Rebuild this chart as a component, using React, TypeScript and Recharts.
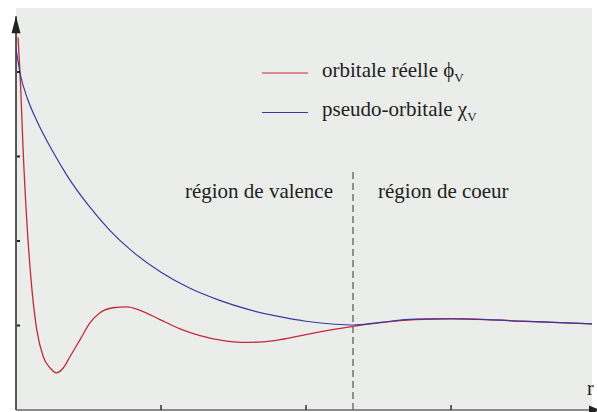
import React from 'react';
import {
  LineChart,
  Line,
  XAxis,
  YAxis,
  CartesianGrid,
  ReferenceLine,
  ReferenceDot,
  Legend,
} from 'recharts';

// r in units of the x-axis tick spacing, amplitude in units of the y-axis tick spacing
const reelleR = [0.014, 0.032, 0.05, 0.074, 0.108, 0.143, 0.188, 0.234, 0.28, 0.327, 0.372, 0.441, 0.51, 0.579, 0.669, 0.766, 0.855, 0.993, 1.131, 1.269, 1.43, 1.55, 1.7, 1.85, 2.05, 2.324, 2.5, 2.75, 3.0, 3.25, 3.5, 3.75, 3.972];
const reelleV = [4.41, 3.83, 3.04, 2.25, 1.46, 0.95, 0.63, 0.5, 0.44, 0.5, 0.63, 0.83, 1.03, 1.15, 1.21, 1.22, 1.18, 1.07, 0.96, 0.88, 0.82, 0.8, 0.805, 0.84, 0.91, 0.99, 1.03, 1.07, 1.08, 1.07, 1.05, 1.035, 1.018];

const pseudoR = [0, 0.03, 0.08, 0.15, 0.25, 0.35, 0.5, 0.65, 0.8, 1.0, 1.2, 1.4, 1.6, 1.8, 2.0, 2.2, 2.324, 2.5, 2.75, 3.0, 3.25, 3.5, 3.75, 3.972];
const pseudoV = [4.28, 3.97, 3.68, 3.4, 3.07, 2.78, 2.42, 2.12, 1.88, 1.63, 1.44, 1.3, 1.19, 1.11, 1.05, 1.015, 1.006, 1.035, 1.075, 1.08, 1.07, 1.05, 1.035, 1.018];

const xTicks = [1, 2, 3];
const yTicks = [1, 2, 3, 4];
const boundaryR = 2.324;
const boundaryTop = 2.82;
const regionLabelY = 2.51;
const xMax = 3.972;
const yMax = 4.757;
const yAxisTop = 4.66;

const regionLeft = 'région de valence';
const regionRight = 'région de coeur';
const nameReelle = 'orbitale réelle ϕ';
const namePseudo = 'pseudo-orbitale χ';
const subscript = 'V';
const axisLabel = 'r';

const reelleData = reelleR.map((r, i) => ({ r, v: reelleV[i] }));
const pseudoData = pseudoR.map((r, i) => ({ r, v: pseudoV[i] }));

const FONT = "'Liberation Serif', 'DejaVu Serif', 'Times New Roman', serif";
const textStyle = { fontFamily: FONT };

const XTick = (props: any) => {
  const { x, y } = props;
  return <line x1={x} x2={x} y1={y} y2={y - 5} stroke="#333" strokeWidth={1.5} />;
};

const YTick = (props: any) => {
  const { x, y } = props;
  return <line x1={x + 1} x2={x + 4} y1={y} y2={y} stroke="#222" strokeWidth={2} />;
};

const ArrowUp = (props: any) => {
  const { cx, cy } = props;
  return <polygon points={`${cx},${cy} ${cx - 4.5},${cy + 17} ${cx + 4.5},${cy + 17}`} fill="#222" />;
};

const ArrowRight = (props: any) => {
  const { cx, cy } = props;
  return (
    <g>
      <polygon points={`${cx + 8},${cy} ${cx - 3},${cy - 4.5} ${cx - 3},${cy + 4.5}`} fill="#222" />
      <text x={cx - 5} y={cy - 15} style={textStyle} fontSize={20} fill="#222">
        {axisLabel}
      </text>
    </g>
  );
};

const RegionLabels = (props: any) => {
  const { cx, cy } = props;
  return (
    <g style={textStyle} fontSize={21} fill="#222">
      <text x={cx - 20} y={cy} textAnchor="end" style={textStyle}>{regionLeft}</text>
      <text x={cx + 25} y={cy} textAnchor="start" style={textStyle}>{regionRight}</text>
    </g>
  );
};

const LegendContent = (props: any) => {
  const payload = props.payload || [];
  return (
    <svg width={260} height={80} style={{ display: 'block', overflow: 'visible' }}>
      {payload.map((item: any, i: number) => {
        const ly = 20 + i * 39.5;
        return (
          <g key={i}>
            <line x1={7} x2={53} y1={ly} y2={ly} stroke={item.color} strokeWidth={1} />
            <text x={67} y={ly + 3.5} style={textStyle} fontSize={21} fill="#222">
              {item.value}
              <tspan fontSize={13} dy={5}>{subscript}</tspan>
            </text>
          </g>
        );
      })}
    </svg>
  );
};

export default function App() {
  return (
    <div style={{ position: 'absolute', left: 0, top: 0, width: 597, height: 412, background: '#fff', fontFamily: FONT }}>
      <LineChart
        width={597}
        height={412}
        margin={{ top: 8, right: 5, bottom: 0, left: 0 }}
        style={{ fontFamily: FONT }}
      >
        <CartesianGrid horizontal={false} vertical={false} fill="#ebedea" stroke="none" />
        <XAxis
          dataKey="r"
          type="number"
          domain={[0, xMax]}
          ticks={xTicks}
          height={2}
          tickSize={0}
          tickMargin={0}
          tickLine={false}
          tick={XTick}
          axisLine={{ stroke: '#666', strokeWidth: 1.5 }}
          allowDataOverflow
        />
        <YAxis
          type="number"
          domain={[0, yMax]}
          ticks={yTicks}
          width={16}
          tickSize={0}
          tickMargin={0}
          tickLine={false}
          tick={YTick}
          axisLine={false}
          allowDataOverflow
        />
        <ReferenceLine
          segment={[{ x: 0, y: 0 }, { x: 0, y: yAxisTop }]}
          stroke="#222"
          strokeWidth={1.5}
          ifOverflow="visible"
        />
        <ReferenceLine
          segment={[{ x: boundaryR, y: 0 }, { x: boundaryR, y: boundaryTop }]}
          stroke="#333"
          strokeWidth={1}
          strokeDasharray="7 4"
        />
        <ReferenceDot x={boundaryR} y={regionLabelY} r={0} shape={RegionLabels} ifOverflow="visible" />
        <ReferenceDot x={0} y={yAxisTop} r={0} shape={ArrowUp} ifOverflow="visible" />
        <ReferenceDot x={xMax} y={0} r={0} shape={ArrowRight} ifOverflow="visible" />
        <Line
          data={reelleData}
          dataKey="v"
          name={nameReelle}
          type="monotone"
          stroke="#c22a3a"
          strokeWidth={1.3}
          dot={false}
          isAnimationActive={false}
        />
        <Line
          data={pseudoData}
          dataKey="v"
          name={namePseudo}
          type="monotone"
          stroke="#3a3a9e"
          strokeWidth={1.2}
          dot={false}
          isAnimationActive={false}
        />
        <Legend
          layout="vertical"
          align="center"
          verticalAlign="middle"
          content={LegendContent}
          wrapperStyle={{ position: 'absolute', left: 255, top: 53, width: 260, height: 80 }}
        />
      </LineChart>
    </div>
  );
}
